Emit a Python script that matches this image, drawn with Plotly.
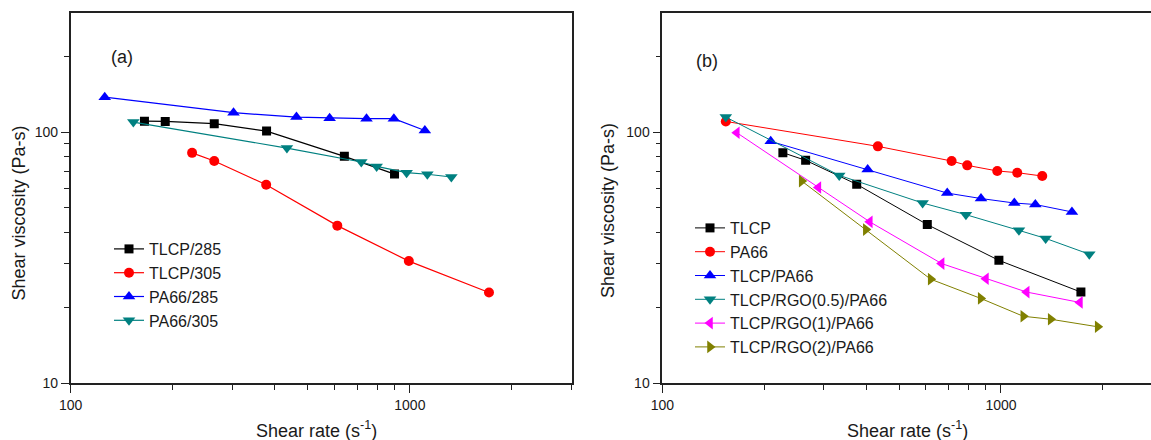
import plotly.graph_objects as go
import copy
import math

# ---------------- Panel (a) data ----------------
a_tlcp285_x = [165, 190, 265, 378, 641, 901]
a_tlcp285_y = [110.9, 110.6, 108.3, 101.2, 80.3, 68.2]
a_tlcp305_x = [228, 265, 377, 611, 993, 1711]
a_tlcp305_y = [82.9, 76.9, 61.9, 42.5, 30.7, 23.0]
a_pa285_x = [126, 302, 463, 580, 745, 897, 1107]
a_pa285_y = [138.2, 119.8, 115.1, 114.0, 113.4, 113.4, 101.8]
a_pa305_x = [153, 434, 719, 798, 978, 1126, 1325]
a_pa305_y = [109.9, 86.6, 76.2, 73.2, 69.1, 68.1, 66.4]

# ---------------- Panel (b) data ----------------
b_tlcp_x = [227, 265, 375, 606, 986, 1722]
b_tlcp_y = [83.0, 77.4, 62.1, 42.9, 30.9, 23.1]
b_pa66_x = [154, 433, 715, 795, 975, 1117, 1324]
b_pa66_y = [110.6, 88.0, 76.9, 73.9, 70.2, 69.1, 67.0]
b_blend_x = [209, 404, 694, 873, 1095, 1263, 1620]
b_blend_y = [92.1, 71.1, 57.3, 54.5, 52.3, 51.6, 48.2]
b_rgo05_x = [154, 333, 587, 788, 1130, 1355, 1823]
b_rgo05_y = [115.1, 67.4, 52.3, 47.0, 40.7, 37.8, 32.7]
b_rgo1_x = [166, 289, 410, 668, 903, 1191, 1711]
b_rgo1_y = [99.7, 60.3, 44.0, 30.0, 26.1, 23.1, 21.0]
b_rgo2_x = [258, 399, 620, 871, 1164, 1402, 1930]
b_rgo2_y = [64.0, 41.0, 26.0, 21.8, 18.5, 18.0, 16.8]

# ---------------- Ticks ----------------
x_major = [100, 1000]
x_major_text = ["100", "1000"]
x_minor = [200, 300, 400, 500, 600, 700, 800, 900, 2000, 3000]
y_major = [10, 100]
y_major_text = ["10", "100"]
y_minor = [20, 30, 40, 50, 60, 70, 80, 90, 200]

FONT = "Arial, Liberation Sans, Helvetica, sans-serif"
TXT = "#1a1a1a"

fig = go.Figure()

def add(x, y, name, color, symbol, size, xa, ya, legend, lw):
    fig.add_trace(go.Scatter(
        x=x, y=y, name=name, mode="lines+markers",
        line=dict(color=color, width=lw),
        marker=dict(color=color, symbol=symbol, size=size),
        xaxis=xa, yaxis=ya, legend=legend))

add(a_tlcp285_x, a_tlcp285_y, "TLCP/285", "#000000", "square", 9, "x", "y", "legend", 1.2)
add(a_tlcp305_x, a_tlcp305_y, "TLCP/305", "#ff0000", "circle", 10, "x", "y", "legend", 1.2)
add(a_pa285_x, a_pa285_y, "PA66/285", "#0000ff", "triangle-up", 11, "x", "y", "legend", 1.2)
add(a_pa305_x, a_pa305_y, "PA66/305", "#008080", "triangle-down", 11, "x", "y", "legend", 1.2)

add(b_tlcp_x, b_tlcp_y, "TLCP", "#000000", "square", 9, "x2", "y2", "legend2", 1)
add(b_pa66_x, b_pa66_y, "PA66", "#ff0000", "circle", 10, "x2", "y2", "legend2", 1)
add(b_blend_x, b_blend_y, "TLCP/PA66", "#0000ff", "triangle-up", 11, "x2", "y2", "legend2", 1)
add(b_rgo05_x, b_rgo05_y, "TLCP/RGO(0.5)/PA66", "#008080", "triangle-down", 11, "x2", "y2", "legend2", 1)
add(b_rgo1_x, b_rgo1_y, "TLCP/RGO(1)/PA66", "#ff00ff", "triangle-left", 11, "x2", "y2", "legend2", 1)
add(b_rgo2_x, b_rgo2_y, "TLCP/RGO(2)/PA66", "#808000", "triangle-right", 11, "x2", "y2", "legend2", 1)

W, H = 1151, 440
def px(v):
    return v / W
def py(v):
    return 1 - v / H

axis_common = dict(
    type="log", showgrid=False, zeroline=False, showline=True, automargin=False,
    linecolor="#222", linewidth=1.6, ticks="outside", ticklen=8,
    tickwidth=1.2, tickcolor="#222",
    tickfont=dict(family=FONT, size=14, color=TXT),
    tickmode="array",
    minor=dict(ticks="outside", ticklen=5, tickwidth=1.1, tickcolor="#222",
               tickmode="array", showgrid=False),
)

def xaxis(domain, rng, mirror, anchor):
    d = copy.deepcopy(axis_common)
    d.update(domain=domain, range=rng, tickvals=x_major, ticktext=x_major_text,
             mirror=mirror, anchor=anchor)
    d["minor"]["tickvals"] = x_minor
    return d

def yaxis(domain, rng, mirror, anchor):
    d = copy.deepcopy(axis_common)
    d.update(domain=domain, range=rng, tickvals=y_major, ticktext=y_major_text,
             mirror=mirror, anchor=anchor)
    d["minor"]["tickvals"] = y_minor
    return d

ydom = [py(383.3), py(12.7)]
LEGFONT = dict(family=FONT, size=16, color=TXT)
fig.update_layout(
    width=W, height=H,
    margin=dict(l=0, r=0, t=0, b=0, autoexpand=False),
    paper_bgcolor="white", plot_bgcolor="white",
    font=dict(family=FONT, size=18, color=TXT),
    xaxis=xaxis([px(70.7), px(571.7)], [2, math.log10(3000)], True, "y"),
    yaxis=yaxis(ydom, [1, math.log10(300)], True, "x"),
    xaxis2=xaxis([px(662.3), 1.0], [2, 3.443], True, "y2"),
    yaxis2=yaxis(ydom, [1, math.log10(300)], False, "x2"),
    legend=dict(x=px(109), y=py(232), xanchor="left", yanchor="top",
                bgcolor="rgba(0,0,0,0)", font=LEGFONT, tracegroupgap=0, itemwidth=30),
    legend2=dict(x=px(690), y=py(211), xanchor="left", yanchor="top",
                 bgcolor="rgba(0,0,0,0)", font=LEGFONT, tracegroupgap=0, itemwidth=30),
    showlegend=True,
)

def ann(text, x, y, angle=0):
    return dict(text=text, x=px(x), y=py(y), xref="paper", yref="paper",
                xanchor="center", yanchor="middle", showarrow=False, textangle=angle,
                font=dict(size=18, family=FONT, color=TXT))

anns = [
    ann("(a)", 122, 57),
    ann("(b)", 707, 61),
    ann("Shear viscosity (Pa-s)", 18.5, 213, -90),
    ann("Shear viscosity (Pa-s)", 608, 211, -90),
    ann("Shear rate (s<sup>-1</sup>)", 316, 429),
    ann("Shear rate (s<sup>-1</sup>)", 907, 429),
]
fig.update_layout(annotations=anns)

fig.write_html("out.html", config={"displayModeBar": False},
               post_script="document.body.style.margin='0px';")
